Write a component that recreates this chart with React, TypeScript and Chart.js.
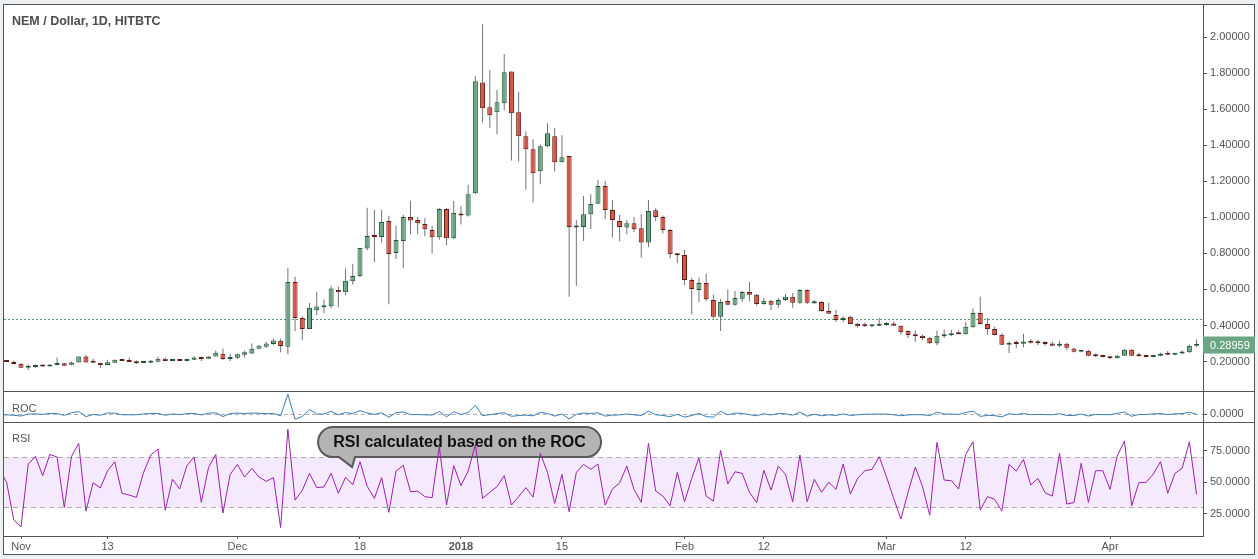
import React, { useEffect, useRef } from 'react';
import { Chart, registerables } from 'chart.js';

Chart.register(...registerables);

// ---------- DATA (daily candles, index 0 = 2017-10-29) ----------
const TITLE = 'NEM / Dollar, 1D, HITBTC';
const ANNOTATION = 'RSI calculated based on the ROC';

const OPEN = [
  .210,
  .206, .197, .188, .166, .170, .175, .172, .181, .190, .182,
  .195, .228, .196, .194, .181, .194, .212, .206, .200, .192,
  .194, .199, .216, .203, .208, .203, .210, .225, .216, .228,
  .243, .214, .221, .238, .245, .271, .282, .298, .315, .282,
  .642, .441, .380, .485, .502, .507, .597, .585, .646, .673,
  .828, .902, .891, .980, .802, .869, 1.002, .985, .963, .930,
  .890, 1.046, .884, 1.020, 1.011, 1.134, 1.749, 1.611, 1.583, 1.633,
  1.810, 1.583, 1.450, 1.378, 1.256, 1.394, 1.450, 1.306, 1.340, .944,
  .947, 1.018, 1.076, 1.174, 1.041, .980, .944, .968, .940, .861,
  1.040, 1.002, .930, .797, .791, .653, .597, .636, .542, .448,
  .536, .515, .548, .586, .570, .520, .537, .515, .542, .559,
  .526, .597, .524, .531, .481, .459, .431, .448, .409, .400,
  .396, .398, .403, .411, .398, .370, .348, .343, .332, .302,
  .341, .346, .361, .352, .391, .470, .409, .380, .349, .293,
  .302, .299, .315, .308, .308, .300, .288, .299, .273, .255,
  .260, .234, .232, .227, .219, .232, .265, .234, .232, .225,
  .232, .245, .238, .245, .251, .288,
];
const HIGH = [
  .214,
  .208, .206, .190, .183, .184, .184, .184, .223, .191, .200,
  .230, .238, .215, .194, .210, .212, .212, .223, .206, .200,
  .208, .226, .223, .212, .212, .212, .229, .227, .230, .262,
  .273, .243, .245, .260, .300, .290, .310, .328, .328, .721,
  .671, .452, .525, .587, .544, .621, .616, .716, .743, .830,
  1.054, 1.043, 1.043, 1.009, .954, 1.015, 1.092, 1.004, .996, .954,
  1.052, 1.052, 1.092, 1.063, 1.181, 1.784, 2.072, 1.818, 1.707, 1.906,
  1.810, 1.696, 1.478, 1.434, 1.405, 1.522, 1.494, 1.456, 1.340, .985,
  1.118, 1.129, 1.207, 1.202, 1.096, 1.013, .985, 1.002, 1.018, 1.096,
  1.051, 1.010, .935, .803, .819, .665, .666, .688, .570, .547,
  .600, .592, .592, .642, .575, .553, .540, .553, .575, .581,
  .603, .600, .542, .535, .526, .487, .452, .454, .414, .415,
  .403, .443, .420, .422, .400, .372, .374, .350, .335, .372,
  .378, .376, .372, .420, .494, .561, .443, .393, .357, .311,
  .317, .354, .324, .321, .313, .311, .316, .305, .277, .262,
  .265, .245, .238, .232, .238, .269, .270, .249, .235, .238,
  .249, .258, .246, .262, .295, .323,
];
const LOW = [
  .204,
  .197, .186, .166, .153, .164, .171, .172, .180, .177, .180,
  .195, .195, .193, .164, .181, .194, .203, .197, .186, .190,
  .193, .199, .203, .203, .203, .203, .208, .203, .216, .228,
  .208, .203, .214, .221, .243, .271, .275, .291, .251, .241,
  .369, .319, .380, .457, .468, .496, .502, .568, .627, .668,
  .817, .751, .861, .518, .769, .718, .906, .906, .895, .800,
  .876, .845, .878, .961, 1.005, 1.129, 1.526, 1.498, 1.460, 1.594,
  1.315, 1.310, 1.155, 1.083, 1.184, 1.389, 1.255, 1.306, .559, .620,
  .869, .935, 1.076, .989, .889, .867, .906, .918, .778, .834,
  .978, .911, .773, .745, .625, .461, .531, .536, .440, .369,
  .514, .510, .531, .535, .509, .515, .485, .498, .536, .498,
  .520, .520, .520, .476, .465, .420, .420, .409, .387, .393,
  .391, .396, .398, .398, .350, .330, .310, .319, .297, .291,
  .330, .340, .352, .350, .388, .405, .350, .345, .290, .247,
  .275, .280, .300, .291, .286, .285, .281, .264, .250, .252,
  .230, .225, .222, .214, .217, .232, .230, .228, .223, .223,
  .230, .236, .236, .240, .249, .281,
];
const CLOSE = [
  .206,
  .198, .186, .166, .169, .173, .172, .181, .190, .177, .195,
  .228, .195, .193, .181, .196, .210, .203, .197, .191, .195,
  .205, .216, .203, .208, .203, .212, .223, .214, .228, .249,
  .214, .223, .240, .251, .271, .289, .300, .317, .286, .642,
  .441, .380, .498, .505, .511, .605, .585, .648, .675, .830,
  .897, .891, .974, .797, .874, 1.002, .983, .967, .934, .890,
  1.046, .884, 1.024, 1.011, 1.129, 1.755, 1.605, 1.567, 1.639, 1.805,
  1.578, 1.450, 1.378, 1.245, 1.394, 1.467, 1.306, 1.334, .947, .947,
  1.018, 1.074, 1.174, 1.041, .985, .947, .968, .934, .861, 1.035,
  1.002, .930, .795, .790, .653, .603, .636, .546, .448, .531,
  .515, .553, .586, .570, .520, .537, .515, .542, .559, .526,
  .597, .526, .529, .481, .465, .431, .442, .409, .396, .396,
  .400, .405, .411, .398, .363, .348, .341, .330, .302, .343,
  .350, .355, .352, .393, .470, .409, .380, .348, .293, .302,
  .297, .311, .304, .302, .297, .288, .299, .277, .255, .260,
  .232, .230, .225, .219, .232, .265, .232, .229, .225, .232,
  .243, .238, .245, .256, .288, .28959,
];
const ROC = [
  0,
  -3.9, -6.1, -10.8, 1.8, 2.4, -0.6, 5.2, 5.0, -6.8, 10.2,
  16.9, -14.5, -1.0, -6.2, 8.3, 7.1, -3.3, -3.0, -3.0, 2.1,
  5.1, 5.4, -6.0, 2.5, -2.4, 4.4, 5.2, -4.0, 6.5, 9.2,
  -14.1, 4.2, 7.6, 4.6, 8.0, 6.6, 3.8, 5.7, -9.8, 124.5,
  -31.3, -13.8, 31.1, 1.4, 1.2, 18.4, -3.3, 10.8, 4.2, 23.0,
  8.1, -0.7, 9.3, -18.2, 9.7, 14.6, -1.9, -1.6, -3.4, -4.7,
  17.5, -15.5, 15.8, -1.3, 11.7, 55.4, -8.5, -2.4, 4.6, 10.1,
  -12.6, -8.1, -5.0, -9.7, 12.0, 5.2, -11.0, 2.1, -29.0, 0,
  7.5, 5.5, 9.3, -11.3, -5.4, -3.9, 2.2, -3.5, -7.8, 20.2,
  -3.2, -7.2, -14.5, -0.6, -17.3, -7.7, 5.5, -14.2, -17.9, 18.5,
  -3.0, 7.4, 6.0, -2.7, -8.8, 3.3, -4.1, 5.2, 3.1, -5.9,
  13.5, -11.9, 0.6, -9.1, -3.3, -7.3, 2.6, -7.5, -3.2, 0,
  1.0, 1.3, 1.5, -3.2, -8.8, -4.1, -2.0, -3.2, -8.5, 13.6,
  2.0, 1.4, -0.8, 11.6, 19.6, -13.0, -7.1, -8.4, -15.8, 3.1,
  -1.7, 4.7, -2.3, -0.7, -1.7, -3.0, 3.8, -7.4, -7.9, 2.0,
  -10.8, -0.9, -2.2, -2.7, 5.9, 14.2, -12.5, -1.3, -1.7, 3.1,
  4.7, -2.1, 2.9, 4.5, 12.5, 0.6,
];
const RSI = [
  60,
  50, 20, 14.7, 64.4, 70.5, 55.2, 72, 70, 30, 70.5,
  80.8, 27.1, 49.6, 45.4, 59.1, 66.3, 41.2, 39.8, 38, 57.8,
  71.6, 76.3, 27.7, 52.3, 44.6, 63.1, 70, 34, 61.6, 72.1,
  25.5, 56.2, 64.1, 54.1, 61, 54.1, 50.7, 53.6, 13.9, 92,
  35.8, 43.5, 57, 45.7, 46.2, 57, 41.2, 53.9, 48, 66.3,
  46.7, 37.2, 53.6, 26.1, 58.9, 63.4, 42.5, 42.9, 38.5, 37.7,
  78.2, 31.9, 63.1, 47.3, 58.9, 80, 37.2, 42, 46.5, 55.2,
  31.9, 38.5, 45.7, 38.2, 72.9, 57.8, 33.2, 56.2, 26.6, 57.8,
  64.1, 60.2, 64.4, 31.9, 44.6, 49.4, 62.8, 44.3, 34, 80.8,
  43, 39, 31.3, 57.8, 34.5, 53, 69.4, 39, 35, 75.3,
  48.6, 58.3, 57, 42, 33.8, 59.4, 43.8, 62.8, 56.2, 34.5,
  71.6, 34.5, 52.3, 42, 50, 44.3, 64.4, 40.6, 53, 59.1,
  60.2, 70.2, 54.3, 37.2, 20.8, 42, 62, 46.5, 23.9, 81.6,
  51.7, 51.2, 44.6, 72.1, 82.1, 27.9, 38.5, 36.4, 27.1, 64.1,
  58.9, 68.1, 47.8, 53, 41.6, 39, 72.9, 32.7, 33.8, 65,
  34, 59.1, 59.1, 44.3, 70.8, 82.7, 31.3, 49.6, 49.9, 56.5,
  66.3, 41.2, 57, 61, 82.1, 40.3,
];

const X_TICK_INDEX = [3, 15, 33, 50, 64, 78, 95, 106, 123, 134, 154];
const X_TICK_LABELS = ['Nov', '13', 'Dec', '18', '2018', '15', 'Feb', '12', 'Mar', '12', 'Apr'];
const PRICE_TICKS = [0.2, 0.4, 0.6, 0.8, 1.0, 1.2, 1.4, 1.6, 1.8, 2.0];
const ROC_TICKS = [0];
const RSI_TICKS = [25, 50, 75];
const RSI_BAND = [30, 70];
const MARKER_PRICE = 0.437;
const LAST_PRICE = 0.28959;
const ANNOTATION_TIP = { x: 48.9, y: 62 };

// ---------- STYLE ----------
const W = 1258;
const H = 559;
const FONT = "'Liberation Sans', Arial, sans-serif";
const AXIS = '#555555';
const TEXT = '#555555';
const OUTER_BG = '#eef1f4';
const UP_FILL = '#6ba583';
const UP_BORDER = '#225437';
const DOWN_FILL = '#d75442';
const DOWN_BORDER = '#5b1a13';
const WICK = '#737375';
const ROC_COLOR = '#3a7fb5';
const RSI_COLOR = '#9b22ad';
const BAND_FILL = '#f5e9fd';

const panesPlugin = {
  id: 'panes',
  beforeDraw(chart: any) {
    const c = chart.ctx;
    c.save();
    c.fillStyle = OUTER_BG;
    c.fillRect(0, 0, W, H);
    c.fillStyle = '#ffffff';
    c.fillRect(3, 4, 1252, 551);
    c.restore();
  },
  beforeDatasetsDraw(chart: any) {
    const c = chart.ctx;
    const a = chart.chartArea;
    const yP = chart.scales.y;
    const yRoc = chart.scales.yRoc;
    const yR = chart.scales.yRsi;
    const xS = chart.scales.x;
    c.save();
    // RSI band
    const yHi = yR.getPixelForValue(RSI_BAND[1]);
    const yLo = yR.getPixelForValue(RSI_BAND[0]);
    c.fillStyle = BAND_FILL;
    c.fillRect(a.left, yHi, a.right - a.left, yLo - yHi);
    c.lineWidth = 1;
    c.strokeStyle = '#adadad';
    c.setLineDash([5, 4]);
    for (const v of RSI_BAND) {
      const y = Math.round(yR.getPixelForValue(v)) + 0.5;
      c.beginPath();
      c.moveTo(a.left, y);
      c.lineTo(a.right, y);
      c.stroke();
    }
    // ROC zero line
    c.setLineDash([4, 3]);
    c.strokeStyle = '#b0b0b0';
    const y0 = Math.round(yRoc.getPixelForValue(0)) + 0.5;
    c.beginPath();
    c.moveTo(a.left, y0);
    c.lineTo(a.right, y0);
    c.stroke();
    // marker price line
    c.setLineDash([2, 2]);
    c.strokeStyle = '#5f9a78';
    const ym = Math.round(yP.getPixelForValue(MARKER_PRICE)) + 0.5;
    c.beginPath();
    c.moveTo(a.left, ym);
    c.lineTo(a.right, ym);
    c.stroke();
    c.setLineDash([]);
    // annotation bubble
    const tx = xS.getPixelForValue(ANNOTATION_TIP.x);
    const ty = yR.getPixelForValue(ANNOTATION_TIP.y);
    const left = tx - 34;
    const right = tx + 249;
    const top = ty - 40;
    const bottom = ty - 10;
    const r = (bottom - top) / 2;
    c.beginPath();
    c.moveTo(left + r, top);
    c.lineTo(right - r, top);
    c.arc(right - r, top + r, r, -Math.PI / 2, Math.PI / 2);
    c.lineTo(tx + 3, bottom);
    c.lineTo(tx, ty);
    c.lineTo(tx - 13, bottom);
    c.lineTo(left + r, bottom);
    c.arc(left + r, top + r, r, Math.PI / 2, (3 * Math.PI) / 2);
    c.closePath();
    c.fillStyle = '#b4b4b4';
    c.fill();
    c.lineWidth = 2;
    c.strokeStyle = '#5a5a5a';
    c.stroke();
    c.fillStyle = '#111111';
    c.font = `bold 16px ${FONT}`;
    c.textAlign = 'center';
    c.textBaseline = 'middle';
    c.fillText(ANNOTATION, (left + right) / 2, (top + bottom) / 2 + 0.5);
    c.restore();
  },
  afterDraw(chart: any) {
    const c = chart.ctx;
    const yP = chart.scales.y;
    const yRoc = chart.scales.yRoc;
    const yR = chart.scales.yRsi;
    c.save();
    c.strokeStyle = AXIS;
    c.lineWidth = 1;
    for (const s of [yRoc, yR]) {
      const y = Math.round(s.top) + 0.5;
      c.beginPath();
      c.moveTo(3, y);
      c.lineTo(1255, y);
      c.stroke();
    }
    c.strokeRect(3.5, 4.5, 1251, 550);
    // title and pane labels
    c.fillStyle = '#4d4d4d';
    c.textAlign = 'left';
    c.textBaseline = 'middle';
    c.font = `bold 12.5px ${FONT}`;
    c.fillText(TITLE, 12, 22);
    c.fillStyle = TEXT;
    c.font = `11px ${FONT}`;
    c.fillText('ROC', 12, yRoc.top + 18);
    c.fillText('RSI', 12, yR.top + 17);
    // last price label
    const yl = yP.getPixelForValue(LAST_PRICE);
    c.fillStyle = UP_FILL;
    c.fillRect(yP.left, Math.round(yl) - 8.5, 52, 17);
    c.fillStyle = '#ffffff';
    c.font = `11px ${FONT}`;
    c.fillText(LAST_PRICE.toFixed(5), yP.left + 7, yl + 0.5);
    c.restore();
  },
};

const yAxisCommon = (weight: number, min: number, max: number, ticks: number[], digits: number) => ({
  type: 'linear',
  position: 'right',
  stack: 'panes',
  stackWeight: weight,
  min,
  max,
  grid: { display: true, drawOnChartArea: false, drawTicks: true, tickLength: 4, color: AXIS },
  border: { display: true, color: AXIS },
  afterBuildTicks: (s: any) => {
    s.ticks = ticks.map((v) => ({ value: v }));
  },
  afterFit: (s: any) => {
    s.width = 52;
    s.paddingTop = 0;
    s.paddingBottom = 0;
  },
  ticks: {
    autoSkip: false,
    padding: 3,
    color: TEXT,
    font: { family: FONT, size: 11 },
    callback: (v: any) => Number(v).toFixed(digits),
  },
});

export default function App() {
  const ref = useRef<HTMLCanvasElement | null>(null);

  useEffect(() => {
    const canvas = ref.current;
    if (!canvas) return;
    const idx = CLOSE.map((_, i) => i);
    const up = idx.map((i) => CLOSE[i] >= OPEN[i]);
    const chart = new Chart(canvas, {
      type: 'bar',
      data: {
        datasets: [
          {
            type: 'bar',
            label: 'body',
            data: idx.map((i) => ({ x: i, y: [Math.min(OPEN[i], CLOSE[i]), Math.max(OPEN[i], CLOSE[i])] })),
            backgroundColor: up.map((u) => (u ? UP_FILL : DOWN_FILL)),
            borderColor: up.map((u) => (u ? UP_BORDER : DOWN_BORDER)),
            borderWidth: 1,
            borderSkipped: false,
            barThickness: 5,
            minBarLength: 2,
            grouped: false,
            inflateAmount: 0,
            order: 0,
            xAxisID: 'x',
            yAxisID: 'y',
          },
          {
            type: 'bar',
            label: 'wick',
            data: idx.map((i) => ({ x: i, y: [LOW[i], HIGH[i]] })),
            backgroundColor: WICK,
            borderWidth: 0,
            barThickness: 1,
            grouped: false,
            inflateAmount: 0,
            order: 1,
            xAxisID: 'x',
            yAxisID: 'y',
          },
          {
            type: 'line',
            label: 'ROC',
            data: idx.map((i) => ({ x: i, y: ROC[i] })),
            borderColor: ROC_COLOR,
            borderWidth: 1,
            pointRadius: 0,
            tension: 0,
            order: 2,
            xAxisID: 'x',
            yAxisID: 'yRoc',
          },
          {
            type: 'line',
            label: 'RSI',
            data: idx.map((i) => ({ x: i, y: RSI[i] })),
            borderColor: RSI_COLOR,
            borderWidth: 1,
            pointRadius: 0,
            tension: 0,
            order: 3,
            xAxisID: 'x',
            yAxisID: 'yRsi',
          },
        ] as any,
      },
      options: {
        responsive: false,
        animation: false,
        events: [],
        layout: { padding: { left: 4, top: 4, right: 3, bottom: 4 } },
        plugins: { legend: { display: false }, tooltip: { enabled: false } },
        scales: {
          x: {
            type: 'linear',
            position: 'bottom',
            min: 0.64,
            max: 166.89,
            offset: false,
            grid: { display: true, offset: false, drawOnChartArea: false, drawTicks: true, tickLength: 3, color: AXIS },
            border: { display: true, color: AXIS },
            afterBuildTicks: (s: any) => {
              s.ticks = X_TICK_INDEX.map((v) => ({ value: v }));
            },
            afterFit: (s: any) => {
              s.height = 19;
              s.paddingLeft = 0;
              s.paddingRight = 0;
            },
            ticks: {
              autoSkip: false,
              maxRotation: 0,
              minRotation: 0,
              padding: 1,
              color: TEXT,
              font: (ctx: any) => {
                const k = ctx.tick ? X_TICK_INDEX.indexOf(ctx.tick.value) : -1;
                return { family: FONT, size: 11, weight: k >= 0 && X_TICK_LABELS[k] === '2018' ? 'bold' : 'normal' };
              },
              callback: (v: any) => {
                const k = X_TICK_INDEX.indexOf(Number(v));
                return k >= 0 ? X_TICK_LABELS[k] : '';
              },
            },
          },
          y: yAxisCommon(387, 0.0366, 2.184, PRICE_TICKS, 5),
          yRoc: yAxisCommon(31, -48, 145, ROC_TICKS, 4),
          yRsi: yAxisCommon(114, 7.3, 97.8, RSI_TICKS, 4),
        } as any,
      },
      plugins: [panesPlugin],
    } as any);
    return () => chart.destroy();
  }, []);

  return (
    <div style={{ position: 'absolute', left: 0, top: 0, width: W, height: H, background: OUTER_BG }}>
      <canvas ref={ref} width={W} height={H} style={{ display: 'block', width: W, height: H }} />
    </div>
  );
}
